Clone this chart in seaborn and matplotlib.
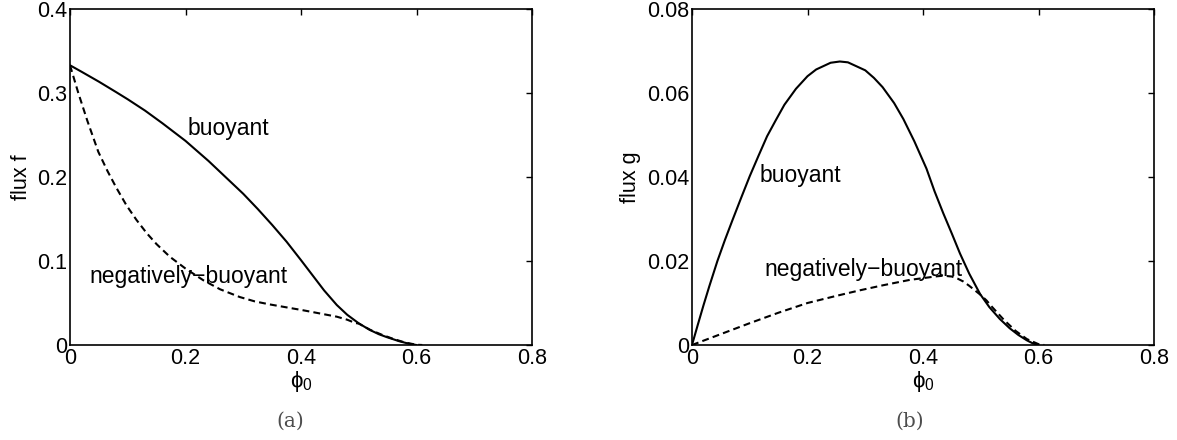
import numpy as np
import pandas as pd
import matplotlib
matplotlib.use('Agg')
import matplotlib.pyplot as plt
import seaborn as sns

# (a) flux f
phi_f_b = [0.0, 0.02, 0.05, 0.08, 0.10, 0.13, 0.16, 0.20, 0.24, 0.28, 0.30, 0.325, 0.35, 0.375,
           0.40, 0.42, 0.44, 0.462, 0.48, 0.50, 0.519, 0.535, 0.548, 0.56, 0.57, 0.583, 0.592, 0.60]
f_b = [0.333, 0.3253, 0.3135, 0.301, 0.2925, 0.279, 0.264, 0.243, 0.219, 0.193, 0.180, 0.162, 0.143, 0.123,
       0.101, 0.083, 0.065, 0.0476, 0.036, 0.0258, 0.018, 0.0128, 0.0095, 0.0068, 0.0045, 0.0022, 0.0008, 0.0]

phi_f_n = [0.0, 0.007, 0.0144, 0.03, 0.049, 0.065, 0.08, 0.098, 0.115, 0.133, 0.15, 0.173, 0.20, 0.231,
           0.26, 0.294, 0.32, 0.346, 0.375, 0.404, 0.43, 0.462, 0.48, 0.494, 0.50, 0.52, 0.54, 0.56,
           0.58, 0.60, 0.61]
f_n = [0.333, 0.317, 0.300, 0.267, 0.230, 0.207, 0.1875, 0.166, 0.149, 0.133, 0.120, 0.105, 0.091, 0.077,
       0.0663, 0.0571, 0.0519, 0.0483, 0.0448, 0.0413, 0.0379, 0.0337, 0.0301, 0.0262, 0.0255, 0.0180,
       0.0122, 0.0072, 0.0030, 0.0003, 0.0]

# (b) flux g
phi_g_b = [0.0, 0.01, 0.02, 0.03, 0.044, 0.057, 0.07, 0.085, 0.10, 0.115, 0.13, 0.145, 0.16, 0.18, 0.20,
           0.215, 0.24, 0.256, 0.27, 0.30, 0.315, 0.33, 0.35, 0.366, 0.385, 0.406, 0.42, 0.435, 0.45,
           0.464, 0.48, 0.499, 0.515, 0.533, 0.55, 0.565, 0.58, 0.59, 0.60]
g_b = [0.0, 0.0048, 0.0095, 0.0140, 0.020, 0.0250, 0.0297, 0.035, 0.0402, 0.045, 0.0497, 0.0535, 0.0572,
       0.0610, 0.0640, 0.0656, 0.0672, 0.0675, 0.0673, 0.0654, 0.0636, 0.0614, 0.0576, 0.0538, 0.0485,
       0.0420, 0.0366, 0.0314, 0.0265, 0.0218, 0.0170, 0.0121, 0.0090, 0.0062, 0.0040, 0.0024, 0.0011,
       0.0004, 0.0]

phi_g_n = [0.0, 0.05, 0.10, 0.15, 0.20, 0.25, 0.29, 0.33, 0.377, 0.41, 0.42, 0.435, 0.45, 0.46, 0.47,
           0.48, 0.49, 0.50, 0.51, 0.52, 0.54, 0.56, 0.58, 0.60, 0.61]
g_n = [0.0, 0.0026, 0.0052, 0.0077, 0.0100, 0.0117, 0.0130, 0.0142, 0.0155, 0.0161, 0.0163, 0.0165,
       0.0163, 0.0158, 0.0151, 0.0141, 0.0130, 0.0119, 0.0106, 0.0090, 0.0060, 0.0034, 0.0014, 0.0002, 0.0]

xticks = [0, 0.2, 0.4, 0.6, 0.8]
yticks_f = [0, 0.1, 0.2, 0.3, 0.4]
yticks_g = [0, 0.02, 0.04, 0.06, 0.08]

sns.set_style('white')
plt.rcParams['font.family'] = ['Liberation Sans', 'DejaVu Sans']
plt.rcParams['mathtext.fontset'] = 'custom'
plt.rcParams['mathtext.rm'] = 'Liberation Sans'
plt.rcParams['mathtext.it'] = 'Liberation Sans'
plt.rcParams['text.color'] = 'k'
plt.rcParams['axes.labelcolor'] = 'k'
plt.rcParams['xtick.color'] = 'k'
plt.rcParams['ytick.color'] = 'k'

def armar(phi_b, y_b, phi_n, y_n):
    d1 = pd.DataFrame({'phi0': phi_b, 'flux': y_b, 'caso': 'buoyant'})
    d2 = pd.DataFrame({'phi0': phi_n, 'flux': y_n, 'caso': 'negatively'})
    return pd.concat([d1, d2], ignore_index=True)

fig = plt.figure(figsize=(11.77, 4.40), dpi=100)
ax1 = fig.add_axes([70 / 1177, 95 / 440, 462 / 1177, 336 / 440])
ax2 = fig.add_axes([692 / 1177, 95 / 440, 462 / 1177, 336 / 440])

paneles = [
    (ax1, armar(phi_f_b, f_b, phi_f_n, f_n), yticks_f, 'flux f', (0.203, 0.258), (0.033, 0.082)),
    (ax2, armar(phi_g_b, g_b, phi_g_n, g_n), yticks_g, 'flux g', (0.117, 0.0403), (0.125, 0.0179)),
]

for ax, df, yt, ylab, pos_b, pos_n in paneles:
    sns.lineplot(data=df, x='phi0', y='flux', style='caso',
                 dashes={'buoyant': '', 'negatively': (3.3, 2.0)},
                 color='k', linewidth=1.5, legend=False, ax=ax)
    ax.set_xlim(0, 0.8)
    ax.set_ylim(yt[0], yt[-1])
    ax.set_xticks(xticks)
    ax.set_yticks(yt)
    ax.set_xticklabels([f'{v:g}' for v in xticks])
    ax.set_yticklabels([f'{v:g}' for v in yt])
    ax.tick_params(direction='in', length=4, width=1, top=True, right=True,
                   labelsize=15.5, pad=2, colors='k')
    for s in ax.spines.values():
        s.set_visible(True)
        s.set_linewidth(1.2)
        s.set_color('k')
    ax.set_xlabel(r'$\phi_0$', fontsize=16, labelpad=0)
    ax.set_ylabel(ylab, fontsize=15.5, labelpad=4)
    ax.text(pos_b[0], pos_b[1], 'buoyant', fontsize=16.5, va='center', ha='left')
    ax.text(pos_n[0], pos_n[1], 'negatively\u2212buoyant', fontsize=16.5, va='center', ha='left')

fig.text(290 / 1177, 1 - 421 / 440, '(a)', family='DejaVu Serif', fontsize=14.5,
         color='#4d4d4d', ha='center', va='center')
fig.text(910 / 1177, 1 - 421 / 440, '(b)', family='DejaVu Serif', fontsize=14.5,
         color='#4d4d4d', ha='center', va='center')

fig.savefig('out.png', dpi=100)
